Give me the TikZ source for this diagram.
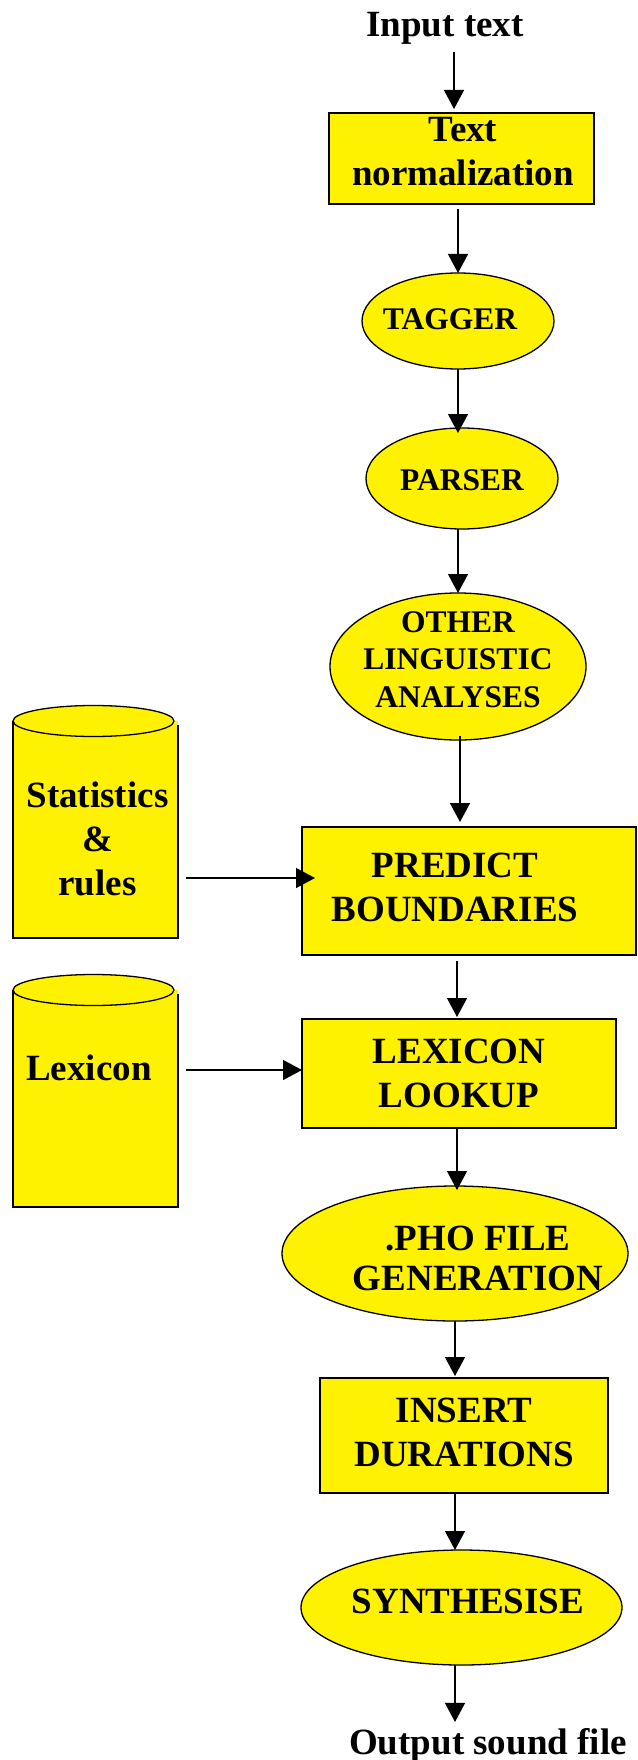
\documentclass[tikz,border=0pt]{standalone}
\usepackage{fontspec}
\setmainfont{Liberation Serif}
\usetikzlibrary{arrows.meta,shapes.geometric}
\newcommand\stacklines[1]{\vtop{\let\\\cr\halign{\hfil##\hfil\cr#1\cr}}}
\tikzset{
  every node/.style={inner sep=0pt, outer sep=0pt},
  boxnode/.style={draw=black, line width=1.5pt, fill=yellow, rectangle},
  ellnode/.style={draw=black, line width=1.3pt, fill=yellow, ellipse},
  dbbody/.style={fill=yellow, rectangle},
  bigtxt/.style={anchor=base, font=\fontsize{37}{44}\selectfont\bfseries},
  smalltxt/.style={anchor=base, font=\fontsize{31.5}{37.5}\selectfont\bfseries},
  arr/.style={line width=1.3pt, -{Triangle[length=19pt,width=20pt]}},
  outline/.style={line width=1.5pt},
}
\begin{document}
\begin{tikzpicture}[x=1pt,y=-1pt]
\useasboundingbox (0,0) rectangle (637,1760);
\fill[white] (0,0) rectangle (637,1760);

% column coordinates for connectors
\coordinate (a1) at (454,0);
\coordinate (a2) at (458,0);
\coordinate (a3) at (460,0);
\coordinate (a4) at (457,0);
\coordinate (a5) at (455,0);
\coordinate (h1) at (0,878);
\coordinate (h2) at (0,1070);

% main chain
\node[bigtxt] (in) at (445,37) {Input text};

\node[boxnode, minimum width=265pt, minimum height=91pt] (tn) at (461.5,158.5) {};
\node[bigtxt] (tnt) at (463,142) {\stacklines{Text\\normalization}};

\node[ellnode, minimum width=192pt, minimum height=96pt] (tagger) at (458,321) {};
\node[smalltxt] (taggert) at (450,330) {TAGGER};

\node[ellnode, minimum width=192pt, minimum height=101pt] (parser) at (462,478.5) {};
\node[smalltxt] (parsert) at (462,490) {PARSER};

\node[ellnode, minimum width=256pt, minimum height=147pt] (other) at (458,666.5) {};
\node[smalltxt] (othert) at (458,632) {\stacklines{OTHER\\LINGUISTIC\\ANALYSES}};

\node[boxnode, minimum width=334pt, minimum height=128pt] (pb) at (469,891) {};
\node[bigtxt] (pbt) at (455,877) {\stacklines{PREDICT\\BOUNDARIES}};

\node[boxnode, minimum width=314pt, minimum height=109pt] (ll) at (459,1073.5) {};
\node[bigtxt] (llt) at (459,1063) {\stacklines{LEXICON\\LOOKUP}};

\node[ellnode, minimum width=346pt, minimum height=135pt] (pho) at (455,1253.5) {};
\node[bigtxt, font=\fontsize{37}{40}\selectfont\bfseries] (phot) at (478,1250) {\stacklines{.PHO FILE\\GENERATION}};

\node[boxnode, minimum width=288pt, minimum height=115pt] (ins) at (464,1435.5) {};
\node[bigtxt] (inst) at (464,1422) {\stacklines{INSERT\\DURATIONS}};

\node[ellnode, minimum width=321pt, minimum height=115pt] (syn) at (461.5,1607.5) {};
\node[bigtxt] (synt) at (468,1613) {SYNTHESISE};

\node[bigtxt] (out) at (488,1754) {Output sound file};

% database cylinders
\node[dbbody, minimum width=165pt, minimum height=217pt] (stat) at (95.5,829.5) {};
\draw[outline] (stat.north west) -- (stat.south west) -- (stat.south east) -- ([yshift=-4pt]stat.north east);
\draw[line width=1.3pt, fill=yellow] (93.5,721) ellipse [x radius=80.5pt, y radius=15.5pt];
\node[bigtxt] (statt) at (97.5,807) {\stacklines{Statistics\\\&\\rules}};

\node[dbbody, minimum width=165pt, minimum height=217pt] (lex) at (95.5,1098.5) {};
\draw[outline] (lex.north west) -- (lex.south west) -- (lex.south east) -- ([yshift=-4pt]lex.north east);
\draw[line width=1.3pt, fill=yellow] (93.5,990) ellipse [x radius=80.5pt, y radius=15.5pt];
\node[bigtxt] (lext) at (89,1080) {Lexicon};

% connectors
\draw[arr, shorten <=7pt, shorten >=4pt] (in.south -| a1) -- (tn.north -| a1);
\draw[arr, shorten <=5pt] (tn.south -| a2) -- (tagger.north -| a2);
\draw[arr, shorten >=-5pt] (tagger.south -| a2) -- (parser.north -| a2);
\draw[arr] (parser.south -| a2) -- (other.north -| a2);
\draw[arr, shorten <=-4pt, shorten >=5pt] (other.south -| a3) -- (pb.north -| a3);
\draw[arr, shorten <=6pt, shorten >=2pt] (pb.south -| a4) -- (ll.north -| a4);
\draw[arr, shorten >=-4pt] (ll.south -| a4) -- (pho.north -| a4);
\draw[arr, shorten >=2pt] (pho.south -| a5) -- (ins.north -| a5);
\draw[arr] (ins.south -| a5) -- (syn.north -| a5);
\draw[arr, shorten >=6pt] (syn.south -| a5) -- (out.north -| a5);
\draw[arr, shorten <=8pt, shorten >=-13pt] (stat.east |- h1) -- (pb.west |- h1);
\draw[arr, shorten <=8pt] (lex.east |- h2) -- (ll.west |- h2);
\end{tikzpicture}
\end{document}
